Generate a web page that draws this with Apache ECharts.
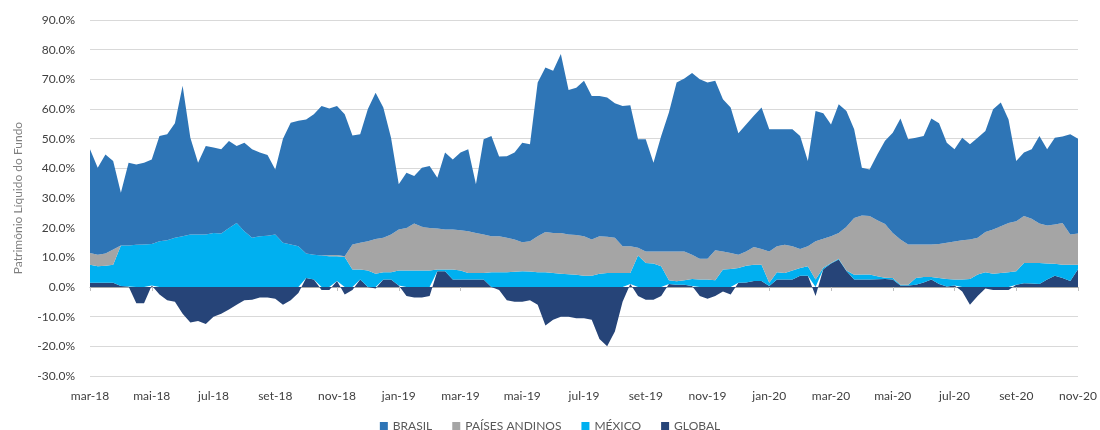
<!DOCTYPE html>
<html>
<head>
    <meta charset="utf-8">
    <title>Patrimônio Líquido do Fundo</title>
    <script src="https://cdn.jsdelivr.net/npm/echarts@6/dist/echarts.min.js"></script>
</head>
<body style="margin:0;">
    <div id="main" style="width:1100px;height:430px;"></div>
    <script type="text/javascript">
        var myChart = echarts.init(document.getElementById('main'));

        // month tick labels, mar-18 .. nov-20 (4 samples per month)
        var monthLabels = [
            'mar-18','abr-18','mai-18','jun-18','jul-18','ago-18','set-18','out-18','nov-18','dez-18',
            'jan-19','fev-19','mar-19','abr-19','mai-19','jun-19','jul-19','ago-19','set-19','out-19','nov-19','dez-19',
            'jan-20','fev-20','mar-20','abr-20','mai-20','jun-20','jul-20','ago-20','set-20','out-20','nov-20'
        ];
        var samplesPerMonth = 4;

        // % of fund net assets, weekly samples
        var global = [
            1.4, 1.4, 1.4, 1.4, 0.3, 0.2, -5.5, -5.5, 0.5, -2.5, -4.5, -5, -9, -12, -11.5, -12.5, -10, -9, -7.6, -6, -4.5, -4.3,
            -3.5, -3.5, -4, -6, -4.5, -2, 3, 2.5, -1, -1, 2, -2.5, -1, 2.5, 0, -0.5, 2.5, 2.5, 0.5, -3, -3.5,
            -3.5, -3, 5.3, 5.3, 2.5, 2.5, 2.5, 2.5, 2.5, 0, -1, -4.5, -5, -5, -4.5, -6, -13, -11, -10, -10, -10.5, -10.5,
            -11, -17.5, -20, -15, -5, 1, -3, -4.3, -4.3, -3, 1, 0.8, 0.8, 0.3, -3, -4, -3, -1.5, -2.5, 1.4, 1.5,
            2, 2, 0.3, 2.5, 2.5, 2.5, 3.8, 3.8, -3, 6, 7.9, 9.3, 5.4, 2.5, 2.5, 2.5, 2.6, 2.7, 2.5, 0.5, 0.5,
            0.8, 1.5, 2.5, 1, 0.2, 0.5, -1.5, -6, -3, -0.5, -1, -1, -1, 0.8, 1.3, 1.2, 1.0, 2.5, 3.8, 3.0, 2.0, 6.0
        ];
        var mexico = [
            6.1, 5.6, 5.8, 6.1, 13.7, 13.8, 14.2, 14.3, 14.0, 15.4, 15.8, 16.6, 17.1, 17.7, 17.7, 17.7, 18.2, 18.0, 19.9, 21.6, 18.8, 16.6,
            17.1, 17.3, 17.7, 14.9, 14.3, 13.7, 8.3, 8.4, 10.6, 10.4, 8.4, 10.1, 5.9, 3.4, 5.6, 4.5, 2.5, 2.5, 5.1, 5.6, 5.6,
            5.6, 5.6, 0.6, 0.6, 3.4, 3.1, 2.2, 2.2, 2.2, 5.0, 5.0, 5.0, 5.1, 5.3, 5.2, 5.0, 5.0, 4.7, 4.5, 4.3, 4.1, 3.8,
            3.8, 4.5, 4.7, 4.7, 4.7, 3.7, 10.6, 8.1, 7.9, 7.0, 1.3, 1.1, 1.5, 2.4, 2.5, 2.5, 2.3, 5.9, 6.1, 5.0, 5.7,
            5.5, 5.5, 1.1, 2.5, 2.2, 3.1, 2.6, 3.2, 2.5, 0.5, 0.2, 0.2, 0.2, 1.6, 1.7, 1.7, 1.0, 0.4, 0.5, 0.3, 0.3,
            2.2, 1.9, 0.9, 2.0, 2.5, 2.0, 2.5, 2.7, 4.2, 5.0, 4.5, 4.7, 5.0, 4.5, 6.8, 6.9, 7.1, 5.4, 4.0, 4.5, 5.5, 1.5
        ];
        var andinos = [
            4.0, 3.9, 4.1, 5.1, 0, 0, 0, 0, 0, 0, 0, 0, 0, 0, 0, 0, 0, 0, 0, 0, 0, 0,
            0, 0, 0, 0, 0, 0, 0, 0, 0, 0.3, 0.4, 0.3, 8.4, 9.0, 9.8, 11.7, 11.6, 12.7, 13.8, 14.3, 15.8,
            14.7, 14.3, 13.8, 13.5, 13.5, 13.5, 14.1, 13.5, 13.0, 12.1, 12.1, 11.6, 10.9, 9.8, 10.2, 12.1, 13.5, 13.5, 13.7, 13.4, 13.4, 13.3,
            12.2, 12.6, 12.2, 11.9, 9.0, 9.0, 2.6, 3.9, 4.1, 5.0, 9.7, 10.1, 9.7, 8.2, 7.0, 7.0, 10.1, 6.1, 5.4, 4.5, 4.8,
            6.0, 5.3, 10.6, 8.7, 9.5, 8.1, 6.4, 6.7, 12.9, 9.8, 9.0, 8.7, 14.7, 19.2, 19.9, 19.7, 18.9, 18.1, 15.2, 15.2, 13.5,
            11.3, 10.9, 10.9, 11.5, 12.2, 12.8, 13.3, 13.3, 12.4, 13.5, 14.9, 15.8, 16.6, 16.9, 15.8, 14.9, 13.3, 12.8, 13.3, 14.1, 10.2, 10.5
        ];
        var brasil = [
            34.9, 29.3, 33.4, 29.9, 17.8, 27.9, 27.1, 27.6, 28.5, 35.5, 35.7, 38.6, 50.7, 32.6, 24.2, 29.8, 28.8, 28.4, 29.3, 25.9, 29.8, 29.8,
            28.2, 27.2, 21.9, 35.1, 41.1, 42.3, 45.2, 47.3, 50.4, 49.5, 50.2, 47.8, 36.8, 36.6, 44.6, 49.3, 43.9, 32.6, 15.2, 18.6, 16.0,
            19.9, 20.9, 17.1, 25.9, 23.6, 26.2, 27.6, 16.4, 32.1, 33.8, 26.9, 27.5, 29.3, 33.5, 32.7, 51.8, 55.5, 54.7, 60.3, 48.7, 49.7, 52.4,
            48.4, 47.3, 47.0, 45.3, 47.3, 47.6, 36.6, 37.8, 29.9, 38.9, 46.8, 56.9, 58.3, 61.2, 60.5, 59.4, 57.1, 51.3, 49.0, 40.9, 42.8,
            44.2, 47.7, 41.2, 39.5, 39.0, 39.5, 38.1, 28.8, 43.9, 42.3, 37.7, 43.4, 39.0, 29.9, 16.1, 15.7, 22.2, 28.1, 33.8, 40.8, 35.5,
            36.0, 36.6, 42.5, 40.7, 33.7, 31.1, 34.5, 32.1, 33.7, 34.1, 40.5, 41.7, 34.9, 20.3, 21.4, 23.4, 29.5, 25.7, 29.2, 29.1, 33.8, 32.0
        ];

        var categories = [];
        for (var m = 0; m < monthLabels.length; m++) {
            var n = m === monthLabels.length - 1 ? 1 : samplesPerMonth;
            for (var w = 0; w < n; w++) categories.push(monthLabels[m] + '|' + w);
        }

        var font = 'Lato, "Open Sans", sans-serif';

        function area(name, color, data) {
            return {
                name: name,
                type: 'line',
                stack: 'total',
                data: data,
                showSymbol: false,
                symbol: 'none',
                lineStyle: { width: 0 },
                areaStyle: { color: color, opacity: 1 },
                itemStyle: { color: color },
                emphasis: { disabled: true }
            };
        }

        var option = {
            animation: false,
            textStyle: { fontFamily: font },
            grid: { left: 90, right: 22, top: 20, bottom: 54, containLabel: false, outerBoundsMode: 'none' },
            legend: {
                data: ['BRASIL', 'PAÍSES ANDINOS', 'MÉXICO', 'GLOBAL'],
                left: 'center',
                top: 415,
                icon: 'rect',
                itemWidth: 8,
                itemHeight: 8,
                itemGap: 20,
                textStyle: { color: '#595959', fontSize: 12, fontFamily: font }
            },
            xAxis: [{
                // labels along the bottom of the plot
                type: 'category',
                data: categories,
                position: 'bottom',
                boundaryGap: false,
                axisLine: { show: false, onZero: false },
                axisTick: { show: false },
                axisLabel: {
                    interval: 7,
                    margin: 14,
                    color: '#404040',
                    fontSize: 12,
                    fontFamily: font,
                    formatter: function (v) { return v.split('|')[0]; }
                },
                splitLine: { show: false }
            }, {
                // axis line at 0%
                type: 'category',
                data: categories,
                position: 'top',
                boundaryGap: false,
                axisLine: { onZero: true, lineStyle: { color: '#a6a6a6', width: 1 } },
                axisTick: { show: true, inside: true, interval: 7, length: 4, lineStyle: { color: '#bfbfbf' } },
                axisLabel: { show: false },
                splitLine: { show: false }
            }],
            yAxis: {
                type: 'value',
                min: -30,
                max: 90,
                interval: 10,
                name: 'Patrimônio Líquido do Fundo',
                nameLocation: 'middle',
                nameGap: 66,
                nameTextStyle: { color: '#7f7f7f', fontSize: 12, fontFamily: font },
                axisLine: { show: false },
                axisTick: { show: false },
                axisLabel: {
                    margin: 15,
                    color: '#404040',
                    fontSize: 12,
                    fontFamily: font,
                    formatter: function (v) { return v.toFixed(1) + '%'; }
                },
                splitLine: { lineStyle: { color: '#d9d9d9', width: 1 } }
            },
            series: [
                area('GLOBAL', '#264478', global),
                area('MÉXICO', '#00b0f0', mexico),
                area('PAÍSES ANDINOS', '#a5a5a5', andinos),
                area('BRASIL', '#2e75b6', brasil)
            ]
        };

        myChart.setOption(option);
    </script>
</body>
</html>
